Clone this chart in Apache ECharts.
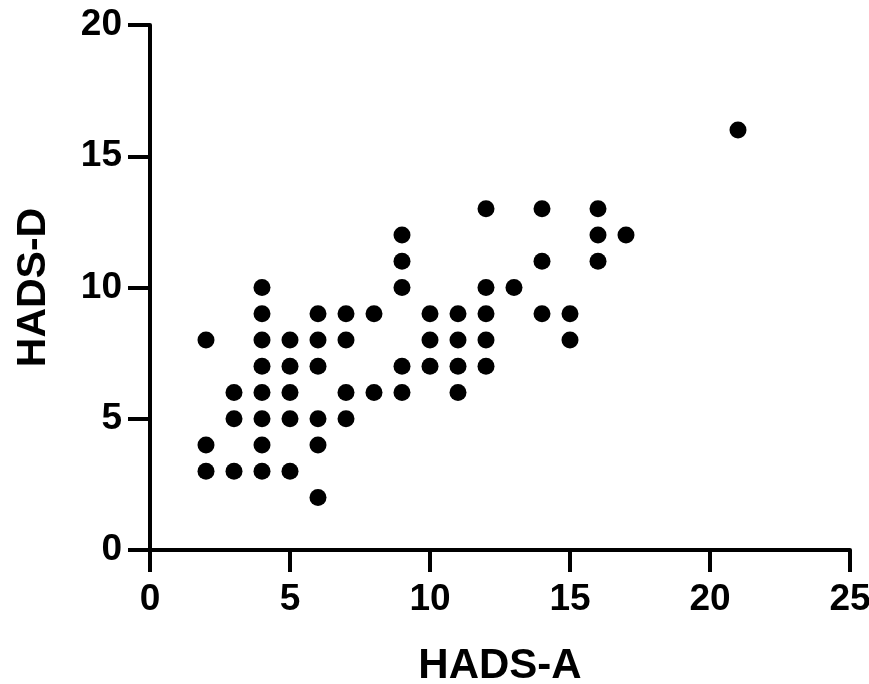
<!DOCTYPE html>
<html>
<head>
<meta charset="utf-8">
<script src="https://cdn.jsdelivr.net/npm/echarts@6/dist/echarts.min.js"></script>
<style>
  html, body { margin: 0; padding: 0; background: #fff; }
  #chart { width: 869px; height: 684px; }
</style>
</head>
<body>
<div id="chart"></div>
<script>
// HADS-A (x) vs HADS-D (y) scores
const hadsA = [2, 2, 2, 3, 3, 3, 4, 4, 4, 4, 4, 4, 4, 4, 5, 5, 5, 5, 5,
  6, 6, 6, 6, 6, 6, 7, 7, 7, 7, 8, 8, 9, 9, 9, 9, 9, 10, 10, 10,
  11, 11, 11, 11, 12, 12, 12, 12, 12, 13, 14, 14, 14, 15, 15, 16, 16, 16, 17, 21]
const hadsD = [8, 4, 3, 6, 5, 3, 10, 9, 8, 7, 6, 5, 4, 3, 8, 7, 6, 5, 3,
  9, 8, 7, 5, 4, 2, 9, 8, 6, 5, 9, 6, 12, 11, 10, 7, 6, 9, 8, 7,
  9, 8, 7, 6, 13, 10, 9, 8, 7, 10, 13, 11, 9, 9, 8, 13, 12, 11, 12, 16]
const xTicks = [0, 5, 10, 15, 20, 25]
const yTicks = [0, 5, 10, 15, 20]

const points = hadsA.map((a, i) => [a, hadsD[i]])
const font = 'Liberation Sans, Arial, sans-serif'
const axisStyle = { color: '#000', width: 4 }

const chart = echarts.init(document.getElementById('chart'))
chart.setOption({
  animation: false,
  grid: { left: 150, top: 25, right: 19, bottom: 134, containLabel: false, outerBoundsMode: 'none' },
  xAxis: {
    type: 'value',
    min: xTicks[0],
    max: xTicks[xTicks.length - 1],
    interval: 5,
    name: 'HADS-A',
    nameLocation: 'middle',
    nameGap: 95,
    nameTextStyle: { fontFamily: font, fontWeight: 'bold', fontSize: 42, color: '#000', verticalAlign: 'top' },
    axisLine: { onZero: false, lineStyle: axisStyle },
    axisTick: { length: 22, lineStyle: axisStyle },
    axisLabel: { margin: 31, fontFamily: font, fontWeight: 'bold', fontSize: 37, color: '#000' },
    splitLine: { show: false }
  },
  yAxis: {
    type: 'value',
    min: yTicks[0],
    max: yTicks[yTicks.length - 1],
    interval: 5,
    name: 'HADS-D',
    nameLocation: 'middle',
    nameGap: 96,
    nameRotate: 90,
    nameTextStyle: { fontFamily: font, fontWeight: 'bold', fontSize: 41, color: '#000' },
    axisLine: { show: true, onZero: false, lineStyle: axisStyle },
    axisTick: { show: true, length: 22, lineStyle: axisStyle },
    axisLabel: { margin: 28, fontFamily: font, fontWeight: 'bold', fontSize: 37, color: '#000' },
    splitLine: { show: false }
  },
  series: [{
    type: 'scatter',
    data: points,
    symbol: 'circle',
    symbolSize: 17,
    itemStyle: { color: '#000', opacity: 1 }
  }]
})
</script>
</body>
</html>
